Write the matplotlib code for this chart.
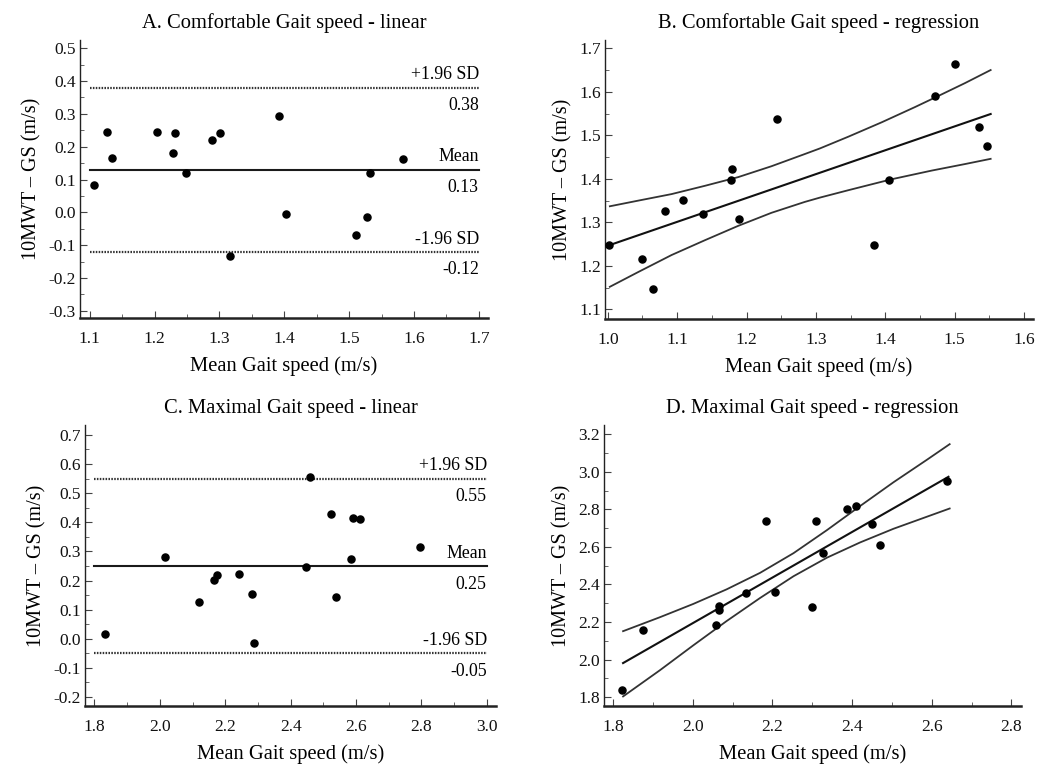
import numpy as np
import matplotlib.pyplot as plt
from matplotlib.ticker import MultipleLocator

plt.rcParams['font.family'] = ['Liberation Serif', 'DejaVu Serif']
plt.rcParams['axes.unicode_minus'] = False

# A. comfortable gait speed - Bland-Altman (linear)
a_x = [1.107, 1.126, 1.134, 1.204, 1.231, 1.229, 1.249, 1.288,
       1.301, 1.317, 1.392, 1.402, 1.511, 1.528, 1.532, 1.583]
a_y = [0.082, 0.245, 0.165, 0.244, 0.241, 0.182, 0.120, 0.221,
       0.242, -0.132, 0.292, -0.006, -0.070, -0.014, 0.120, 0.163]
a_lines = [0.38, 0.13, -0.12]

# B. comfortable gait speed - regression
b_x = [1.002, 1.050, 1.065, 1.082, 1.109, 1.137, 1.178, 1.179,
       1.189, 1.244, 1.384, 1.406, 1.472, 1.501, 1.535, 1.547]
b_y = [1.249, 1.216, 1.146, 1.326, 1.351, 1.320, 1.397, 1.422,
       1.308, 1.538, 1.249, 1.398, 1.590, 1.664, 1.520, 1.475]
b_fit_x = [1.003, 1.552]
b_fit_y = [1.248, 1.549]
b_up_x = [1.003, 1.044, 1.092, 1.140, 1.188, 1.236, 1.284, 1.306,
          1.347, 1.395, 1.443, 1.476, 1.515, 1.552]
b_up_y = [1.337, 1.350, 1.365, 1.384, 1.404, 1.429, 1.457, 1.470,
          1.497, 1.530, 1.565, 1.590, 1.620, 1.650]
b_lo_x = [1.003, 1.044, 1.092, 1.140, 1.188, 1.236, 1.284, 1.306,
          1.347, 1.409, 1.467, 1.515, 1.552]
b_lo_y = [1.152, 1.186, 1.225, 1.259, 1.292, 1.322, 1.347, 1.357,
          1.374, 1.399, 1.419, 1.434, 1.446]

# C. maximal gait speed - Bland-Altman (linear)
c_x = [1.831, 2.016, 2.120, 2.166, 2.175, 2.242, 2.283, 2.289,
       2.447, 2.458, 2.522, 2.539, 2.585, 2.592, 2.613, 2.796]
c_y = [0.018, 0.280, 0.125, 0.201, 0.218, 0.224, 0.154, -0.015,
       0.245, 0.554, 0.428, 0.142, 0.275, 0.416, 0.413, 0.316]
c_lines = [0.55, 0.25, -0.05]

# D. maximal gait speed - regression
d_x = [1.823, 1.876, 2.058, 2.067, 2.067, 2.133, 2.183, 2.207,
       2.299, 2.310, 2.326, 2.387, 2.411, 2.451, 2.469, 2.639]
d_y = [1.839, 2.156, 2.183, 2.284, 2.263, 2.357, 2.736, 2.362,
       2.282, 2.736, 2.570, 2.800, 2.820, 2.723, 2.611, 2.953]
d_fit_x = [1.825, 2.642]
d_fit_y = [1.981, 2.974]
d_up_x = [1.825, 1.917, 2.001, 2.085, 2.169, 2.253, 2.337, 2.420,
          2.504, 2.588, 2.645]
d_up_y = [2.151, 2.225, 2.296, 2.374, 2.462, 2.567, 2.690, 2.818,
          2.945, 3.065, 3.148]
d_lo_x = [1.825, 1.917, 2.001, 2.085, 2.169, 2.253, 2.337, 2.420,
          2.504, 2.645]
d_lo_y = [1.803, 1.942, 2.075, 2.205, 2.328, 2.444, 2.543, 2.624,
          2.697, 2.805]

line_names = ['+1.96 SD', 'Mean', '-1.96 SD']

ylab = '10MWT \u2013 GS (m/s)'
xlab = 'Mean Gait speed (m/s)'


def style_axes(ax, xlim, ylim, xmaj, xmin, ymaj, ymin):
    ax.set_xlim(xlim)
    ax.set_ylim(ylim)
    ax.xaxis.set_major_locator(MultipleLocator(xmaj))
    ax.xaxis.set_minor_locator(MultipleLocator(xmin))
    ax.yaxis.set_major_locator(MultipleLocator(ymaj))
    ax.yaxis.set_minor_locator(MultipleLocator(ymin))
    ax.xaxis.set_major_formatter('{x:.1f}')
    ax.yaxis.set_major_formatter('{x:.1f}')
    for s in ['top', 'right']:
        ax.spines[s].set_visible(False)
    ax.spines['left'].set_linewidth(1.0)
    ax.spines['bottom'].set_linewidth(1.8)
    ax.spines['left'].set_color('#222222')
    ax.spines['bottom'].set_color('#222222')
    ax.tick_params('both', direction='in', which='major', length=5, width=0.8,
                   color='#444444', labelsize=12.5, labelcolor='#111111')
    ax.tick_params('both', direction='in', which='minor', length=3, width=0.7,
                   color='#666666')
    ax.tick_params('x', which='major', pad=9)
    ax.tick_params('y', which='major', pad=3)
    ax.set_xlabel(xlab, fontsize=14.8, labelpad=7)
    ax.set_ylabel(ylab, fontsize=14.5, labelpad=5)


def ba_panel(ax, x, y, lines, x0, x1):
    ax.scatter(x, y, s=26, color='black', zorder=3)
    for val, name in zip(lines, line_names):
        if name == 'Mean':
            ax.plot([x0, x1], [val, val], color='#1a1a1a', lw=1.5)
        else:
            ax.plot([x0, x1], [val, val], color='#333333', lw=1.6,
                    linestyle=(0, (0.7, 0.6)))
        ax.annotate(name, (x1, val), xytext=(0, 3), textcoords='offset points',
                    ha='right', va='bottom', fontsize=12.8)
        ax.annotate('{:.2f}'.format(val), (x1, val), xytext=(0, -7),
                    textcoords='offset points', ha='right', va='top', fontsize=12.8)


def reg_panel(ax, x, y, fx, fy, ux, uy, lx, ly):
    ax.scatter(x, y, s=26, color='black', zorder=3)
    ax.plot(fx, fy, color='#111111', lw=1.5)
    ax.plot(ux, uy, color='#333333', lw=1.3)
    ax.plot(lx, ly, color='#333333', lw=1.3)


fig = plt.figure(figsize=(10.52, 7.65), dpi=100)

axA = fig.add_axes([0.0760, 0.5843, 0.3878, 0.3634])
ba_panel(axA, a_x, a_y, a_lines, 1.1, 1.7)
style_axes(axA, (1.085, 1.714), (-0.322, 0.525), 0.1, 0.05, 0.1, 0.05)
axA.set_title('A. Comfortable Gait speed - linear', fontsize=14.8, pad=9)

axB = fig.add_axes([0.5751, 0.5830, 0.4068, 0.3647])
reg_panel(axB, b_x, b_y, b_fit_x, b_fit_y, b_up_x, b_up_y, b_lo_x, b_lo_y)
style_axes(axB, (0.996, 1.613), (1.078, 1.719), 0.1, 0.05, 0.1, 0.05)
axB.set_title('B. Comfortable Gait speed - regression', fontsize=14.8, pad=9)

axC = fig.add_axes([0.0808, 0.0771, 0.3907, 0.3673])
ba_panel(axC, c_x, c_y, c_lines, 1.8, 3.0)
style_axes(axC, (1.771, 3.028), (-0.231, 0.734), 0.2, 0.1, 0.1, 0.05)
axC.set_title('C. Maximal Gait speed - linear', fontsize=14.8, pad=9)

axD = fig.add_axes([0.5741, 0.0771, 0.3964, 0.3673])
reg_panel(axD, d_x, d_y, d_fit_x, d_fit_y, d_up_x, d_up_y, d_lo_x, d_lo_y)
style_axes(axD, (1.777, 2.824), (1.752, 3.250), 0.2, 0.1, 0.2, 0.1)
axD.set_title('D. Maximal Gait speed - regression', fontsize=14.8, pad=9)

fig.savefig('out.png', dpi=100)
